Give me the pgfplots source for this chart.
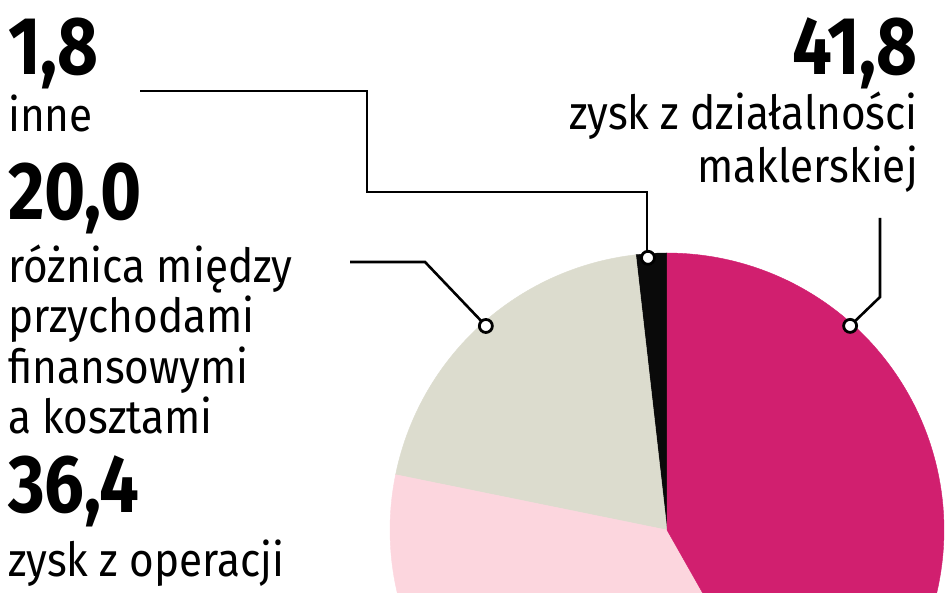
\documentclass[border=0pt]{standalone}
\usepackage{fontspec}
\setmainfont{Fira Sans}
\newfontfamily\labfont{Fira Sans}[FakeStretch=0.9]
\newfontfamily\numfont{Fira Sans}[FakeStretch=0.86]
\usepackage{pgfplots}
\pgfplotsset{compat=1.18}

\definecolor{cMak}{HTML}{D11F6F}
\definecolor{cOper}{HTML}{FCD6DE}
\definecolor{cRoz}{HTML}{DCDCCE}
\definecolor{cInne}{HTML}{0A0A0A}

% shares (%)
\def\vMak{41.8}
\def\vOper{36.4}
\def\vRoz{20.0}
\def\vInne{1.8}

\pgfmathsetmacro\aA{90+3.6*\vInne}
\pgfmathsetmacro\aB{\aA+3.6*\vRoz}
\pgfmathsetmacro\aC{\aB+3.6*\vOper}
\pgfmathsetmacro\aD{\aC+3.6*\vMak}

\newcommand\lab[1]{{\labfont\fontsize{47}{50}\selectfont #1}}
\newcommand\num[1]{{\numfont\bfseries\fontsize{82}{82}\selectfont #1}}

\begin{document}
\begin{tikzpicture}
\useasboundingbox (0pt,0pt) rectangle (948pt,593pt);
\clip (0pt,0pt) rectangle (948pt,593pt);

% leader lines
\draw[line width=2.6pt] (140pt,502pt) -- (367pt,502pt) -- (367pt,401pt) -- (647pt,401pt) -- (647pt,335pt);
\draw[line width=2.6pt] (350pt,331pt) -- (425pt,331pt) -- (486pt,267pt);
\draw[line width=2.6pt] (880pt,375pt) -- (880pt,296pt) -- (851pt,268pt);

\begin{axis}[
    at={(667pt,63pt)}, anchor=center,
    scale only axis, width=554pt, height=554pt,
    hide axis, clip=false,
    xmin=-1, xmax=1, ymin=-1, ymax=1,
    data cs=polar,
]
\addplot[draw=cInne, line width=0.4pt, fill=cInne, domain=90:\aA, samples=10] {1} -- (axis cs:0,0) -- cycle;
\addplot[draw=cRoz, line width=0.4pt, fill=cRoz, domain=\aA:\aB, samples=60] {1} -- (axis cs:0,0) -- cycle;
\addplot[draw=cOper, line width=0.4pt, fill=cOper, domain=\aB:\aC, samples=100] {1} -- (axis cs:0,0) -- cycle;
\addplot[draw=cMak, line width=0.4pt, fill=cMak, domain=\aC:\aD, samples=100] {1} -- (axis cs:0,0) -- cycle;
\addplot[only marks, mark=*, mark size=6.5pt, line width=2.8pt,
    mark options={fill=white, draw=black, line width=2.8pt}]
    coordinates {(94,0.985) (131.6,0.985) (48.1,0.99)};
\end{axis}

% labels, left column
\node[anchor=base west, inner sep=0] at (8pt,518pt) {\num{1,8}};
\node[anchor=base west, inner sep=0] at (8pt,461pt) {\lab{inne}};
\node[anchor=base west, inner sep=0] at (8pt,373pt) {\num{20,0}};
\node[anchor=base west, inner sep=0] at (8pt,310pt) {\lab{różnica między}};
\node[anchor=base west, inner sep=0] at (8pt,260pt) {\lab{przychodami}};
\node[anchor=base west, inner sep=0] at (8pt,209pt) {\lab{finansowymi}};
\node[anchor=base west, inner sep=0] at (8pt,159pt) {\lab{a kosztami}};
\node[anchor=base west, inner sep=0] at (8pt,80pt) {\num{36,4}};
\node[anchor=base west, inner sep=0] at (8pt,16pt) {\lab{zysk z operacji}};

% labels, right column
\node[anchor=base east, inner sep=0] at (918pt,518pt) {\num{41,8}};
\node[anchor=base east, inner sep=0] at (918pt,463pt) {\lab{zysk z działalności}};
\node[anchor=base east, inner sep=0] at (918pt,410pt) {\lab{maklerskiej}};
\end{tikzpicture}
\end{document}
